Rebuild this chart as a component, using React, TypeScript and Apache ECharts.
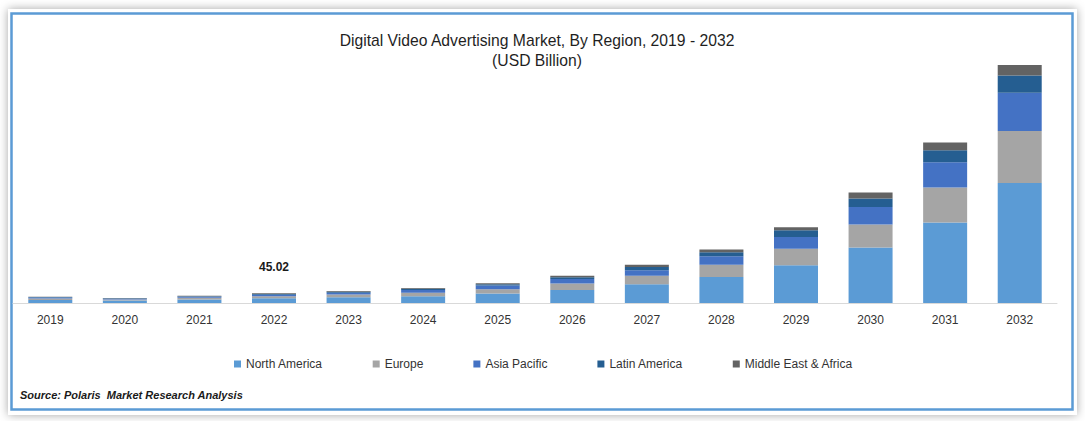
import React, { useEffect, useRef } from "react";
import * as echarts from "echarts";

// Years on the category axis
const years = ["2019", "2020", "2021", "2022", "2023", "2024", "2025", "2026", "2027", "2028", "2029", "2030", "2031", "2032"];

// Regional market size, USD billion
const northAmerica = [14.0, 11.1, 16.3, 21.6, 26.7, 31, 44, 60, 87, 121, 175, 257, 374, 557];
const europe = [6.4, 5.1, 7.5, 9.9, 12.3, 17, 20, 30, 39, 56, 77, 107, 162, 241];
const asiaPacific = [4.7, 3.7, 5.4, 7.2, 8.9, 12, 17, 21, 26, 40, 54, 82, 117, 178];
const latinAmerica = [2.3, 1.9, 2.7, 3.6, 4.5, 6.5, 6, 9, 15, 19, 32, 39, 56, 80];
const middleEastAfrica = [1.8, 1.4, 2.0, 2.72, 3.3, 3, 4.6, 6.5, 11, 12, 13, 28, 36, 48];

// Total shown above the 2022 column
const labelledYear = "2022";
const labelledTotal = "45.02";

const seriesNames = ["North America", "Europe", "Asia Pacific", "Latin America", "Middle East & Africa"];
const seriesColors = ["#5B9BD5", "#A5A5A5", "#4472C4", "#255E91", "#636363"];

const FONT = "'Liberation Sans', Arial, sans-serif";

export default function App() {
  const ref = useRef<HTMLDivElement>(null);

  useEffect(() => {
    if (!ref.current) return;
    const chart = echarts.init(ref.current, undefined, { renderer: "svg" });
    const data = [northAmerica, europe, asiaPacific, latinAmerica, middleEastAfrica];
    const labelIdx = years.indexOf(labelledYear);

    const series = data.map((values, si) => ({
      name: seriesNames[si],
      type: "bar",
      stack: "total",
      barWidth: 44,
      itemStyle: { color: seriesColors[si] },
      data: values.map((v, i) =>
        si === data.length - 1 && i === labelIdx
          ? {
              value: v,
              label: {
                show: true,
                position: "top",
                distance: 20,
                formatter: labelledTotal,
                fontFamily: FONT,
                fontSize: 12,
                fontWeight: "bold",
                color: "#1a1a1a",
              },
            }
          : v
      ),
    }));

    chart.setOption({
      animation: false,
      backgroundColor: "#ffffff",
      graphic: [
        {
          type: "rect",
          z: -10,
          shape: { x: 8, y: 9, width: 1069, height: 406 },
          style: { fill: "#ffffff", shadowBlur: 10, shadowColor: "rgba(0,0,0,0.35)" },
          silent: true,
        },
        {
          type: "rect",
          z: -9,
          shape: { x: 11.5, y: 13.5, width: 1061, height: 396 },
          style: { fill: "#ffffff", stroke: "#5B9BD5", lineWidth: 2.5 },
          silent: true,
        },
        {
          type: "text",
          x: 537,
          y: 40,
          style: {
            text: "Digital Video Advertising Market, By Region, 2019 - 2032",
            fontFamily: FONT,
            fontSize: 15.7,
            fill: "#1f1f1f",
            align: "center",
            verticalAlign: "middle",
          },
        },
        {
          type: "text",
          x: 537,
          y: 60,
          style: {
            text: "(USD Billion)",
            fontFamily: FONT,
            fontSize: 15.7,
            fill: "#1f1f1f",
            align: "center",
            verticalAlign: "middle",
          },
        },
        {
          type: "text",
          x: 20,
          y: 395,
          style: {
            text: "Source: Polaris  Market Research Analysis",
            fontFamily: FONT,
            fontSize: 11,
            fontStyle: "italic",
            fontWeight: "bold",
            fill: "#1a1a1a",
            verticalAlign: "middle",
          },
        },
      ],
      legend: {
        left: 229,
        top: 353,
        itemWidth: 7,
        itemHeight: 7,
        itemGap: 50,
        icon: "rect",
        textStyle: { fontFamily: FONT, fontSize: 12, color: "#333333" },
        data: seriesNames,
      },
      grid: { left: 13, width: 1044, top: 44.4, bottom: 118, containLabel: false },
      xAxis: {
        type: "category",
        data: years,
        axisLine: { lineStyle: { color: "#D9D9D9", width: 1 } },
        axisTick: { show: false },
        axisLabel: { fontFamily: FONT, fontSize: 12, color: "#333333", margin: 11 },
      },
      yAxis: {
        type: "value",
        min: 0,
        max: 1200,
        show: false,
        splitLine: { show: false },
      },
      series,
    });

    return () => chart.dispose();
  }, []);

  return (
    <div style={{ position: "absolute", left: 0, top: 0, width: 1085, height: 421, background: "#fff" }}>
      <div ref={ref} style={{ width: 1085, height: 421 }} />
    </div>
  );
}
